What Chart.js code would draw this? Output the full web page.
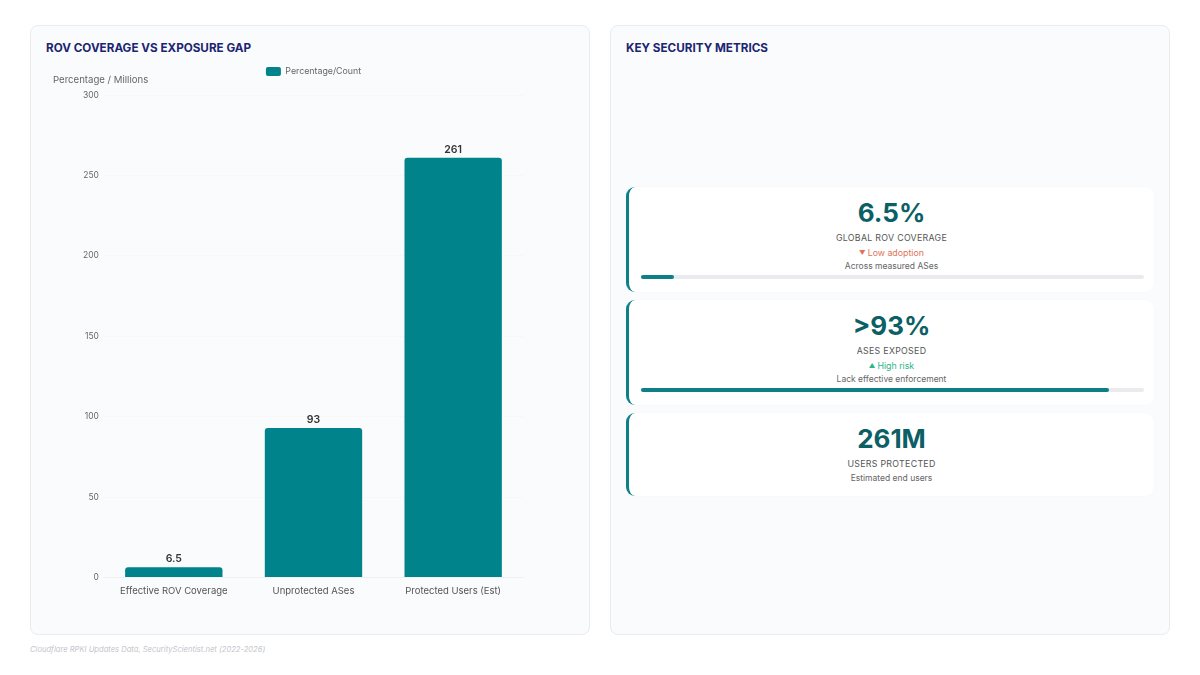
<!DOCTYPE html>
<html><head><meta charset="utf-8">
<script src="https://cdn.jsdelivr.net/npm/chart.js@4.4.1/dist/chart.umd.min.js"></script>
<style>
html,body{margin:0;padding:0;width:1200px;height:675px;background:#ffffff;font-family:Inter,"Noto Sans",sans-serif;overflow:hidden;}
.card{position:absolute;top:25px;width:560px;height:610px;background:#f9fbfd;border:1px solid #e8ecf1;border-radius:8px;box-sizing:border-box;}
#left{left:30px;}
#right{left:610px;}
.ctitle{position:absolute;left:15px;top:15px;font-size:11.7px;font-weight:700;color:#1c2570;letter-spacing:0px;}
#chartWrap{position:absolute;left:15px;top:12px;width:528px;height:572px;}
.metric{position:absolute;left:15px;width:528px;background:#ffffff;border-radius:9px;border-left:3px solid #0d7f86;box-sizing:border-box;text-align:center;box-shadow:0 0 2px rgba(0,0,0,0.03);}
.val{font-size:26px;font-weight:700;color:#0c5f64;line-height:32px;}
.lab{font-size:8.8px;color:#555;letter-spacing:0.3px;margin-top:3px;}
.sub{font-size:8.8px;margin-top:4px;}
.sub .tri{font-size:6.5px;vertical-align:1px;margin-right:2px;}
.desc{font-size:8.5px;color:#666;margin-top:3px;}
.track{position:absolute;left:12px;right:10px;height:4px;background:#e9ebee;border-radius:2px;}
.fill{height:4px;background:#0d7f86;border-radius:2px;}
#foot{position:absolute;left:30px;top:645px;font-size:7.6px;font-style:italic;color:#c3c6cc;}
</style></head>
<body>
<div class="card" id="left">
  <div class="ctitle">ROV COVERAGE VS EXPOSURE GAP</div>
  <div id="chartWrap"><canvas id="c"></canvas></div>
</div>
<div class="card" id="right">
  <div class="ctitle">KEY SECURITY METRICS</div>
  <div class="metric" style="top:161px;height:105px;">
    <div style="padding-top:10px;" class="val">6.5%</div>
    <div class="lab">GLOBAL ROV COVERAGE</div>
    <div class="sub" style="color:#e07258;"><span class="tri">▼</span>Low adoption</div>
    <div class="desc">Across measured ASes</div>
    <div class="track" style="top:88px;"><div class="fill" style="width:6.5%;"></div></div>
  </div>
  <div class="metric" style="top:274px;height:105px;">
    <div style="padding-top:10px;" class="val">&gt;93%</div>
    <div class="lab">ASES EXPOSED</div>
    <div class="sub" style="color:#2bb58a;"><span class="tri">▲</span>High risk</div>
    <div class="desc">Lack effective enforcement</div>
    <div class="track" style="top:88px;"><div class="fill" style="width:93%;"></div></div>
  </div>
  <div class="metric" style="top:387px;height:83px;">
    <div style="padding-top:10px;" class="val">261M</div>
    <div class="lab">USERS PROTECTED</div>
    <div class="desc" style="margin-top:4px;">Estimated end users</div>
  </div>
</div>
<div id="foot">Cloudflare RPKI Updates Data, SecurityScientist.net (2022-2026)</div>
<script>
const categories = ["Effective ROV Coverage", "Unprotected ASes", "Protected Users (Est)"];
const seriesValues = [6.5, 93, 261];
const seriesLabel = "Percentage/Count";
const yTickValues = [0, 50, 100, 150, 200, 250, 300];
const yAxisLabel = "Percentage / Millions";

const extras = {
  id: 'extras',
  afterInit(chart) {
    const lg = chart.legend;
    if (lg && !lg._patched) {
      const origFit = lg.fit;
      lg.fit = function () { origFit.call(this); this.height += 9; };
      lg._patched = true;
    }
  },
  afterDatasetsDraw(chart) {
    const ctx = chart.ctx;
    const meta = chart.getDatasetMeta(0);
    ctx.save();
    ctx.font = '600 10.5px Inter, sans-serif';
    ctx.fillStyle = '#333';
    ctx.textAlign = 'center';
    ctx.textBaseline = 'bottom';
    meta.data.forEach((bar, i) => {
      ctx.fillText(String(seriesValues[i]), bar.x, bar.y - 3);
    });
    ctx.font = '9.6px Inter, sans-serif';
    ctx.fillStyle = '#666';
    ctx.textAlign = 'left';
    ctx.textBaseline = 'middle';
    ctx.fillText(yAxisLabel, 7, chart.chartArea.top - 15);
    ctx.restore();
  }
};

new Chart(document.getElementById('c'), {
  type: 'bar',
  data: {
    labels: categories,
    datasets: [{
      label: seriesLabel,
      data: seriesValues,
      backgroundColor: '#00838a',
      borderRadius: {topLeft: 3, topRight: 3},
      borderSkipped: 'bottom',
      barPercentage: 0.85,
      categoryPercentage: 0.82
    }]
  },
  options: {
    responsive: true,
    maintainAspectRatio: false,
    animation: false,
    layout: {padding: {left: 32, right: 51, top: 0, bottom: 13}},
    plugins: {
      legend: {
        display: true,
        fullSize: false,
        labels: {boxWidth: 15, boxHeight: 9, padding: 29, font: {size: 8.8, family: 'Inter'}, color: '#666', useBorderRadius: true, borderRadius: 2}
      },
      tooltip: {enabled: false}
    },
    scales: {
      x: {
        grid: {display: false},
        border: {color: '#eef0f3'},
        ticks: {font: {size: 9.5, family: 'Inter'}, color: '#555', padding: 0, maxRotation: 0}
      },
      y: {
        min: 0, max: 300,
        afterBuildTicks: (axis) => { axis.ticks = yTickValues.map(v => ({value: v})); },
        grid: {color: 'rgba(0,0,0,0.015)', drawTicks: false},
        border: {display: false},
        ticks: {font: {size: 8.5, family: 'Inter'}, color: '#666', padding: 5}
      }
    }
  },
  plugins: [extras]
});
</script>
</body></html>
